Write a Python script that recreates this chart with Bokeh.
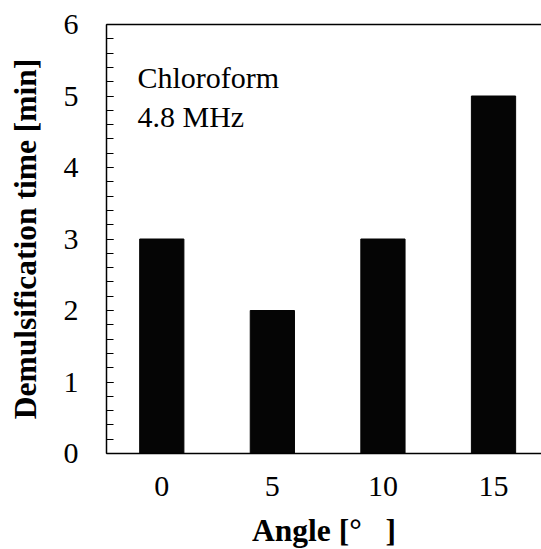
from bokeh.plotting import figure
from bokeh.models import Range1d, LinearAxis, FixedTicker, Label, ColumnDataSource
from bokeh.embed import file_html
from bokeh.resources import INLINE

angles = [0, 5, 10, 15]
times = [3, 2, 3, 5]
x_ticks = [0, 5, 10, 15]
y_ticks = [0, 1, 2, 3, 4, 5, 6]

FONT = "'Liberation Serif'"

p = figure(width=541, height=549, output_backend="svg", toolbar_location=None,
           x_range=Range1d(-2.5, 17.17), y_range=Range1d(0, 6),
           min_border_left=106, min_border_top=24, min_border_right=0, min_border_bottom=96,
           frame_width=435, frame_height=429)
p.outline_line_color = None
p.grid.visible = False
p.background_fill_color = "white"
p.border_fill_color = "white"

src = ColumnDataSource(dict(x=angles, top=times))
p.vbar(x="x", top="top", width=2.0, bottom=0, source=src,
       fill_color="#050505", line_color="#050505")

xa = p.xaxis[0]
xa.ticker = FixedTicker(ticks=x_ticks)
xa.major_tick_in = 0
xa.major_tick_out = 0
xa.minor_tick_in = 0
xa.minor_tick_out = 0
xa.axis_line_width = 1.5
xa.axis_line_color = "black"
xa.major_label_text_font = FONT
xa.major_label_text_font_size = "30px"
xa.major_label_text_color = "black"
xa.major_label_standoff = 23
xa.axis_label = "Angle [°\u00a0\u00a0\u00a0]"
xa.axis_label_text_font = FONT
xa.axis_label_text_font_style = "bold"
xa.axis_label_text_font_size = "31.5px"
xa.axis_label_text_color = "black"
xa.axis_label_standoff = 14

ya = p.yaxis[0]
ya.ticker = FixedTicker(ticks=y_ticks, minor_ticks=[i * 0.2 for i in range(31)])
ya.major_tick_in = 7
ya.major_tick_out = 0
ya.minor_tick_in = 7
ya.minor_tick_out = 0
ya.axis_line_width = 1.5
ya.axis_line_color = "black"
ya.major_tick_line_color = "black"
ya.minor_tick_line_color = "black"
ya.major_label_text_font = FONT
ya.major_label_text_font_size = "30px"
ya.major_label_text_color = "black"
ya.major_label_standoff = 28
ya.axis_label = "Demulsification time [min]"
ya.axis_label_text_font = FONT
ya.axis_label_text_font_style = "bold"
ya.axis_label_text_font_size = "31.5px"
ya.axis_label_text_color = "black"
ya.axis_label_standoff = 18

top_axis = LinearAxis(ticker=FixedTicker(ticks=[]), major_label_text_font_size="0px",
                      axis_line_width=1.5, axis_line_color="black",
                      major_tick_in=0, major_tick_out=0, minor_tick_in=0, minor_tick_out=0)
p.add_layout(top_axis, "above")

for txt, yy in [("Chloroform", 376), ("4.8 MHz", 337)]:
    p.add_layout(Label(x=31, y=yy, x_units="screen", y_units="screen", text=txt,
                       text_font=FONT, text_font_size="30px", text_color="black",
                       text_baseline="alphabetic"))

open("out.html", "w").write(file_html(p, INLINE))
